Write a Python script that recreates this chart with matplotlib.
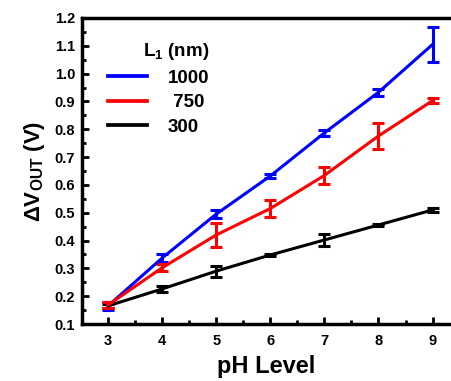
import matplotlib
matplotlib.use("Agg")
import matplotlib.pyplot as plt
from matplotlib.lines import Line2D
from matplotlib.ticker import MultipleLocator

plt.rcParams["font.family"] = ["Liberation Sans", "DejaVu Sans"]
plt.rcParams["font.weight"] = "bold"
plt.rcParams["mathtext.fontset"] = "custom"
plt.rcParams["mathtext.rm"] = "Liberation Sans:bold"
plt.rcParams["mathtext.bf"] = "Liberation Sans:bold"
plt.rcParams["mathtext.it"] = "Liberation Sans:bold"

ph = [3, 4, 5, 6, 7, 8, 9]

v_1000 = [0.165, 0.337, 0.495, 0.632, 0.787, 0.933, 1.105]
e_1000 = [0.015, 0.015, 0.015, 0.008, 0.012, 0.012, 0.062]

v_750 = [0.168, 0.302, 0.420, 0.515, 0.634, 0.776, 0.903]
e_750 = [0.010, 0.012, 0.043, 0.030, 0.030, 0.047, 0.010]

v_300 = [0.165, 0.226, 0.290, 0.348, 0.402, 0.456, 0.510]
e_300 = [0.008, 0.012, 0.020, 0.005, 0.020, 0.004, 0.006]

series = [("1000", v_1000, e_1000, "#0000ff"),
          ("300", v_300, e_300, "#000000"),
          ("750", v_750, e_750, "#ff0000")]

fig = plt.figure(figsize=(4.51, 3.81), dpi=100, facecolor="white")
ax = fig.add_axes([0.1818, 0.1496, 0.8182, 0.8032])

for name, v, e, c in series:
    ax.errorbar(ph, v, yerr=e, color=c, linewidth=2.2, elinewidth=2.2,
                capsize=4.3, capthick=2.2)

ax.set_xlim(2.52, 9.34)
ax.set_ylim(0.1, 1.2)
ax.xaxis.set_major_locator(MultipleLocator(1))
ax.xaxis.set_minor_locator(MultipleLocator(0.5))
ax.yaxis.set_major_locator(MultipleLocator(0.1))
ax.yaxis.set_minor_locator(MultipleLocator(0.05))
ax.yaxis.set_major_formatter(plt.FormatStrFormatter("%.1f"))
ax.tick_params(which="major", direction="in", length=5, width=2,
               labelsize=10.5, pad=5)
ax.tick_params(axis="x", which="major", pad=7)
ax.tick_params(which="minor", direction="in", length=3, width=2)

for side in ["left", "bottom", "top"]:
    ax.spines[side].set_linewidth(2.5)
ax.spines["right"].set_visible(False)

ax.set_xlabel("pH Level", fontsize=17, fontweight="bold", labelpad=5)
ax.set_ylabel(r"$\Delta$V$_{\mathrm{OUT}}$ (V)", fontsize=16,
              fontweight="bold", labelpad=5)

handles = [Line2D([], [], color="#0000ff", linewidth=2.7),
           Line2D([], [], color="#ff0000", linewidth=2.7),
           Line2D([], [], color="#000000", linewidth=2.7)]
leg = ax.legend(handles, ["1000", " 750", "300"], title=r"L$_1$ (nm)",
                loc="upper left", bbox_to_anchor=(0.024, 0.98),
                frameon=False, fontsize=13.5, title_fontsize=13.5,
                handlelength=2.1, handletextpad=1.1, labelspacing=0.4)
leg.get_title().set_fontweight("bold")
leg._legend_box.align = "right"

fig.savefig("out.png", dpi=100, facecolor="white")
